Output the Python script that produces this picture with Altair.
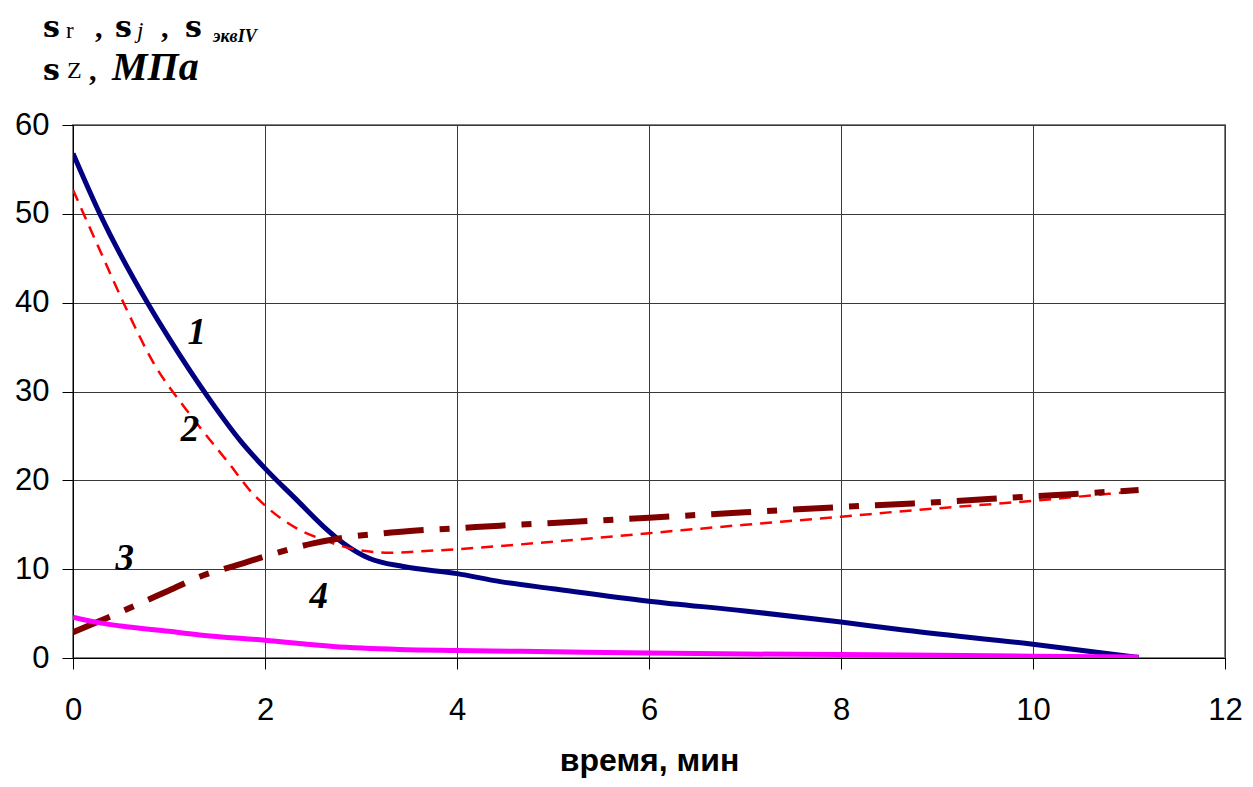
import altair as alt
import pandas as pd

# ---- data ----
x1 = [0, 0.28, 0.78, 1.0, 1.43, 1.74, 2.0, 2.33, 2.61, 2.82, 3.09, 3.44, 4.0, 4.45, 5, 6, 7, 8, 8.61, 10, 11.1]
y1 = [56.8, 50.0, 39.9, 36.0, 29.0, 24.5, 21.35, 17.8, 14.8, 12.9, 11.2, 10.3, 9.5, 8.6, 7.8, 6.4, 5.3, 4.05, 3.2, 1.55, 0.05]

x2 = [0, 0.28, 0.56, 0.84, 1.17, 1.32, 1.64, 1.84, 2.05, 2.33, 2.61, 2.95, 3.3, 3.6, 4.0, 4.45, 5, 6, 7, 8, 8.61, 10, 11.1]
y2 = [52.7, 45.9, 39.2, 33.2, 28.1, 26.0, 21.7, 18.9, 16.7, 14.6, 13.3, 12.2, 11.85, 12.0, 12.25, 12.6, 13.1, 14.05, 15.0, 15.9, 16.5, 17.7, 18.8]

x3 = [0, 0.5, 0.77, 1.0, 1.32, 1.77, 2.05, 2.5, 2.9, 3.2, 3.51, 4.0, 4.45, 5, 6, 7, 8, 8.75, 10, 11.1]
y3 = [2.9, 5.2, 6.5, 7.6, 9.15, 10.66, 11.6, 12.9, 13.66, 14.0, 14.3, 14.6, 14.9, 15.2, 15.8, 16.4, 17.0, 17.4, 18.2, 18.9]

x4 = [0, 0.28, 0.5, 1.0, 1.32, 2.0, 2.71, 3.4, 4, 5, 6, 7, 8, 9, 10, 11.1]
y4 = [4.6, 3.95, 3.6, 3.0, 2.6, 2.0, 1.3, 0.97, 0.85, 0.7, 0.55, 0.45, 0.38, 0.3, 0.2, 0.1]

curve_labels = ["1", "2", "3", "4"]
label_x = [1.29, 1.22, 0.54, 2.56]
label_y = [36.6, 25.7, 11.2, 6.9]

x_ticks = [0, 2, 4, 6, 8, 10, 12]
y_ticks = [0, 10, 20, 30, 40, 50, 60]
x_title = "время, мин"

xs = alt.Scale(domain=[0, 12], nice=False, zero=False)
ys = alt.Scale(domain=[0, 60], nice=False, zero=False)

xax = alt.Axis(values=x_ticks, format="d", title=x_title, grid=True, labelFont="Liberation Sans",
               labelFontSize=31, labelPadding=26, tickSize=11, tickColor="black",
               domainColor="black", gridColor="#3a3a3a", gridWidth=1, labelColor="black",
               titleFont="Liberation Sans", titleFontSize=32, titleFontWeight="bold",
               titleColor="black", titleY=112, titleBaseline="alphabetic", labelFlush=False)
yax = alt.Axis(values=y_ticks, format="d", title=None, grid=True, labelFont="Liberation Sans",
               labelFontSize=31, labelPadding=13, tickSize=11, tickColor="black",
               domainColor="black", gridColor="#3a3a3a", gridWidth=1, labelColor="black")


def series(xv, yv, color, width, dash=None):
    df = pd.DataFrame({"x": xv, "y": yv})
    kw = dict(color=color, strokeWidth=width, interpolate="monotone", clip=True)
    if dash:
        kw["strokeDash"] = dash
    return alt.Chart(df).mark_line(**kw).encode(
        x=alt.X("x:Q", scale=xs, axis=xax),
        y=alt.Y("y:Q", scale=ys, axis=yax),
    )


c1 = series(x1, y1, "#000080", 5)
c2 = series(x2, y2, "#FF0000", 2.5, [12, 8])
c3 = series(x3, y3, "#800000", 6, [40, 16, 10, 16])
c4 = series(x4, y4, "#FF00FF", 5)

lab_df = pd.DataFrame({"x": label_x, "y": label_y, "t": curve_labels})
labels = alt.Chart(lab_df).mark_text(
    font="Liberation Serif", fontSize=37, fontWeight="bold", fontStyle="italic",
    color="black", align="center", baseline="middle"
).encode(x=alt.X("x:Q", scale=xs), y=alt.Y("y:Q", scale=ys), text="t:N")


def header(text, px, py, size, font="Liberation Serif", weight="normal", style="normal"):
    d = pd.DataFrame({"t": [text]})
    return alt.Chart(d).mark_text(
        font=font, fontSize=size, fontWeight=weight, fontStyle=style,
        color="black", align="left", baseline="alphabetic"
    ).encode(x=alt.value(px), y=alt.value(py), text="t:N")


hdr = [
    header("s", -30, -88, 30, font="DejaVu Serif", weight="bold"),
    header("r", -7, -87, 23),
    header(",", 22, -88, 30, weight="bold"),
    header("s", 42, -88, 30, font="DejaVu Serif", weight="bold"),
    header("j", 64, -87, 23, style="italic"),
    header(",", 88, -88, 30, weight="bold"),
    header("s", 112, -88, 30, font="DejaVu Serif", weight="bold"),
    header("эквIV", 140, -83, 18, weight="bold", style="italic"),
    header("s", -30, -45, 30, font="DejaVu Serif", weight="bold"),
    header("Z", -6, -47, 24),
    header(",", 16, -45, 30, weight="bold"),
    header("МПа", 39, -45, 40, weight="bold", style="italic"),
]

chart = alt.layer(c1, c2, c3, c4, labels, *hdr).properties(
    width=1152, height=533,
    autosize=alt.AutoSizeParams(type="none"),
    padding={"left": 65, "top": 117, "right": 20, "bottom": 121},
    background="white",
).configure_view(stroke="#808080", strokeWidth=2)

chart.save("out.html", embed_options={"renderer": "svg", "actions": False})
